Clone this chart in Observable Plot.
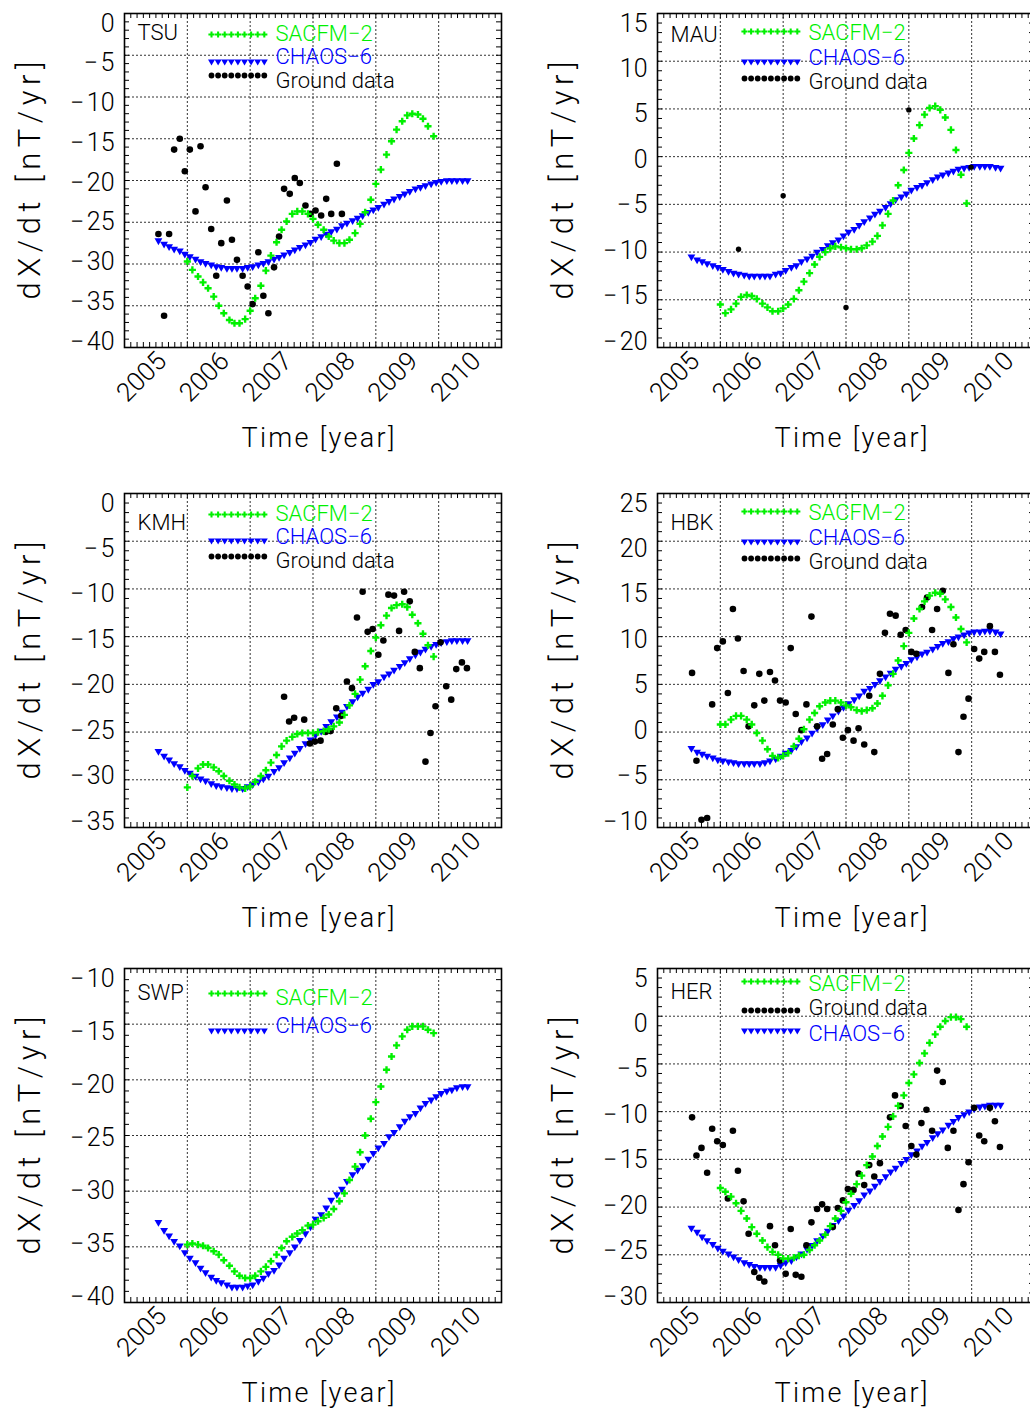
<!DOCTYPE html>
<html><head><meta charset="utf-8">
<script src="https://cdn.jsdelivr.net/npm/d3@7"></script>
<script src="https://cdn.jsdelivr.net/npm/@observablehq/plot@0.6"></script>
<style>
html,body{margin:0;padding:0;background:#fff;}
#wrap{position:relative;width:1030px;height:1412px;overflow:hidden;background:#fff;}
.panel{position:absolute;width:515px;height:457px;}
.panel svg{max-width:none !important;}
</style></head><body><div id="wrap"></div>
<script>
const FONT = "Roboto, 'DejaVu Sans', sans-serif";
const xDomain = [2004.5, 2010.5];
const xTickYears = [2005, 2006, 2007, 2008, 2009, 2010];
const xGrid = [2005.5, 2006.5, 2007.5, 2008.5, 2009.5];

// monthly epochs of the model series
const chaosMonths = [
 2005.04,2005.13,2005.21,2005.29,2005.38,2005.46,2005.54,2005.63,2005.71,2005.79,2005.88,2005.96,
 2006.04,2006.13,2006.21,2006.29,2006.38,2006.46,2006.54,2006.63,2006.71,2006.79,2006.88,2006.96,
 2007.04,2007.13,2007.21,2007.29,2007.38,2007.46,2007.54,2007.63,2007.71,2007.79,2007.88,2007.96,
 2008.04,2008.13,2008.21,2008.29,2008.38,2008.46,2008.54,2008.63,2008.71,2008.79,2008.88,2008.96,
 2009.04,2009.13,2009.21,2009.29,2009.38,2009.46,2009.54,2009.63,2009.71,2009.79,2009.88,2009.96];
const sacfmMonths = [
 2005.50,2005.58,2005.67,2005.75,2005.83,2005.92,
 2006.00,2006.08,2006.17,2006.25,2006.33,2006.42,2006.50,2006.58,2006.67,2006.75,2006.83,2006.92,
 2007.00,2007.08,2007.17,2007.25,2007.33,2007.42,2007.50,2007.58,2007.67,2007.75,2007.83,2007.92,
 2008.00,2008.08,2008.17,2008.25,2008.33,2008.42,2008.50,2008.58,2008.67,2008.75,2008.83,2008.92,
 2009.00,2009.08,2009.17,2009.25,2009.33,2009.42];

// ---- TSU ----
const chaosTSU = [-27.2,-27.6,-27.9,-28.2,-28.4,-28.8,-29.1,-29.4,-29.7,-29.9,
 -30.1,-30.3,-30.4,-30.5,-30.5,-30.5,-30.5,-30.4,-30.3,-30.1,
 -29.9,-29.7,-29.4,-29.2,-28.9,-28.6,-28.3,-28.0,-27.7,-27.4,
 -27.0,-26.7,-26.4,-26.1,-25.8,-25.4,-25.1,-24.8,-24.5,-24.2,
 -23.8,-23.5,-23.2,-22.8,-22.5,-22.2,-21.9,-21.6,-21.3,-21.0,
 -20.8,-20.6,-20.4,-20.2,-20.1,-20.0,-20.0,-20.0,-20.0,-20.0];
const sacfmTSU = [-29.7,-30.7,-31.5,-32.2,-32.9,-33.9,-35.0,-35.9,-36.7,-37.1,
 -37.1,-36.6,-35.6,-34.1,-32.6,-30.8,-29.0,-27.4,-25.9,-24.9,
 -24.0,-23.7,-23.7,-24.0,-24.6,-25.3,-25.9,-26.7,-27.2,-27.5,
 -27.5,-27.1,-26.3,-25.2,-23.8,-22.3,-20.4,-18.7,-16.9,-15.3,
 -13.9,-12.9,-12.2,-12.0,-12.1,-12.6,-13.5,-14.7];
const groundTSU = [[2005.04,-26.4],[2005.13,-36.2],[2005.21,-26.4],[2005.29,-16.3],[2005.38,-15.0],[2005.46,-18.9],
 [2005.54,-16.3],[2005.63,-23.7],[2005.71,-15.9],[2005.79,-20.8],[2005.88,-25.8],[2005.96,-31.4],
 [2006.04,-27.5],[2006.13,-22.4],[2006.21,-27.1],[2006.29,-29.5],[2006.38,-31.4],[2006.46,-32.7],
 [2006.54,-34.8],[2006.63,-28.6],[2006.71,-33.8],[2006.79,-35.9],[2006.88,-30.4],[2006.96,-26.7],
 [2007.04,-21.0],[2007.13,-21.6],[2007.21,-19.7],[2007.29,-20.3],[2007.38,-23.0],[2007.46,-24.0],
 [2007.54,-23.6],[2007.63,-24.2],[2007.71,-22.2],[2007.79,-24.0],[2007.88,-18.0],[2007.96,-24.0]];

// ---- MAU ----
const chaosMAU = [-10.5,-10.8,-11.0,-11.2,-11.4,-11.6,-11.8,-12.0,-12.2,-12.3,
 -12.4,-12.5,-12.5,-12.5,-12.5,-12.5,-12.3,-12.2,-11.9,-11.6,
 -11.4,-11.0,-10.7,-10.4,-10.0,-9.7,-9.3,-9.0,-8.7,-8.3,
 -7.9,-7.6,-7.2,-6.8,-6.4,-6.0,-5.7,-5.3,-4.9,-4.5,
 -4.2,-3.9,-3.5,-3.2,-3.0,-2.7,-2.4,-2.1,-1.9,-1.7,
 -1.5,-1.3,-1.2,-1.1,-1.0,-1.0,-1.0,-1.0,-1.1,-1.2];
const sacfmMAU = [-15.5,-16.4,-16.0,-15.4,-14.7,-14.5,-14.6,-14.9,-15.4,-15.8,
 -16.2,-16.2,-15.9,-15.5,-14.9,-14.0,-13.1,-12.2,-11.3,-10.5,
 -10.0,-9.6,-9.4,-9.5,-9.6,-9.7,-9.7,-9.6,-9.3,-8.9,
 -8.3,-7.2,-6.0,-4.6,-3.0,-1.4,0.4,1.9,3.3,4.4,
 5.1,5.3,4.9,4.1,2.8,0.7,-1.9,-4.9];
const groundMAU = [[2005.79,-9.7],[2006.50,-4.1],[2007.50,-15.8],[2008.50,4.9],[2009.49,-1.1]];

// ---- KMH ----
const chaosKMH = [-27.0,-27.5,-27.9,-28.3,-28.6,-29.0,-29.3,-29.6,-29.9,-30.1,
 -30.4,-30.6,-30.7,-30.8,-30.9,-30.9,-30.9,-30.7,-30.5,-30.2,
 -29.9,-29.6,-29.1,-28.7,-28.2,-27.7,-27.2,-26.7,-26.2,-25.8,
 -25.3,-24.9,-24.4,-23.9,-23.4,-22.9,-22.3,-21.8,-21.3,-20.9,
 -20.5,-20.0,-19.7,-19.2,-18.9,-18.5,-18.1,-17.7,-17.3,-16.9,
 -16.6,-16.3,-16.0,-15.8,-15.6,-15.5,-15.4,-15.4,-15.4,-15.4];
const sacfmKMH = [-30.8,-29.6,-28.8,-28.4,-28.4,-28.7,-29.1,-29.6,-30.1,-30.5,
 -30.8,-30.9,-30.7,-30.2,-29.6,-29.0,-28.2,-27.4,-26.5,-25.9,
 -25.5,-25.2,-25.1,-25.1,-25.1,-25.0,-24.9,-24.7,-24.4,-24.0,
 -23.2,-22.2,-21.0,-19.5,-18.1,-16.5,-15.1,-13.8,-12.8,-12.0,
 -11.7,-11.6,-11.9,-12.7,-13.6,-14.7,-15.9,-17.1];
const groundKMH = [[2007.04,-21.3],[2007.12,-23.9],[2007.20,-23.5],[2007.36,-23.7],[2007.45,-26.2],[2007.53,-26.0],
 [2007.62,-25.9],[2007.70,-25.0],[2007.78,-24.9],[2007.87,-22.5],[2007.95,-23.3],[2008.04,-19.7],
 [2008.12,-20.4],[2008.20,-13.0],[2008.29,-10.3],[2008.37,-14.5],[2008.45,-14.2],[2008.54,-16.9],
 [2008.62,-15.4],[2008.70,-10.6],[2008.79,-10.7],[2008.87,-14.4],[2008.95,-10.3],[2009.04,-11.3],
 [2009.12,-16.6],[2009.20,-18.3],[2009.29,-28.1],[2009.37,-25.1],[2009.45,-22.3],[2009.53,-15.6],
 [2009.62,-20.2],[2009.70,-21.6],[2009.78,-18.4],[2009.87,-17.7],[2009.95,-18.3]];

// ---- HBK ----
const chaosHBK = [-1.7,-2.1,-2.3,-2.5,-2.7,-2.9,-3.0,-3.1,-3.2,-3.3,
 -3.3,-3.3,-3.3,-3.3,-3.2,-3.0,-2.8,-2.5,-2.2,-1.9,
 -1.5,-1.0,-0.6,-0.1,0.4,0.8,1.3,1.7,2.2,2.6,
 3.0,3.4,3.8,4.3,4.6,5.0,5.4,5.8,6.2,6.6,
 6.9,7.2,7.6,7.9,8.2,8.4,8.7,9.0,9.3,9.5,
 9.8,10.0,10.2,10.4,10.5,10.5,10.6,10.6,10.5,10.3];
const sacfmHBK = [0.8,0.8,1.3,1.7,1.7,1.3,0.8,-0.1,-0.9,-1.8,
 -2.5,-2.7,-2.5,-2.2,-1.5,-0.7,0.3,1.3,2.0,2.7,
 3.1,3.3,3.3,3.1,2.8,2.6,2.3,2.2,2.3,2.5,
 3.0,3.8,4.9,6.1,7.5,9.0,10.4,11.9,12.9,13.7,
 14.3,14.6,14.5,13.9,13.1,12.0,10.8,9.4];
const groundHBK = [[2005.05,6.2],[2005.12,-3.0],[2005.20,-9.2],[2005.29,-9.0],[2005.37,2.9],[2005.45,8.8],
 [2005.54,9.5],[2005.62,4.1],[2005.70,12.9],[2005.78,9.8],[2005.87,6.4],[2005.95,0.6],
 [2006.04,2.8],[2006.12,6.1],[2006.20,3.3],[2006.29,6.3],[2006.37,5.4],[2006.45,3.3],
 [2006.54,3.1],[2006.62,8.8],[2006.70,1.9],[2006.79,0.2],[2006.87,2.9],[2006.95,12.1],
 [2007.04,0.6],[2007.12,-2.8],[2007.20,-2.3],[2007.29,0.8],[2007.37,2.4],[2007.45,-0.6],
 [2007.53,0.2],[2007.62,-0.9],[2007.70,0.4],[2007.79,-1.3],[2007.87,3.8],[2007.95,-2.1],
 [2008.04,6.1],[2008.12,10.4],[2008.20,12.4],[2008.29,12.2],[2008.37,10.2],[2008.45,10.7],
 [2008.54,8.4],[2008.62,8.2],[2008.71,13.1],[2008.79,14.1],[2008.87,10.7],[2008.95,12.9],
 [2009.04,14.8],[2009.13,6.2],[2009.21,9.2],[2009.29,-2.1],[2009.37,1.6],[2009.45,3.5],
 [2009.54,8.7],[2009.62,7.7],[2009.70,8.4],[2009.79,11.1],[2009.87,8.4],[2009.95,6.0]];

// ---- SWP ----
const chaosSWP = [-32.8,-33.5,-34.0,-34.5,-34.9,-35.5,-36.0,-36.4,-36.9,-37.3,
 -37.7,-38.0,-38.2,-38.4,-38.6,-38.6,-38.6,-38.5,-38.4,-38.1,
 -37.8,-37.4,-37.1,-36.6,-36.0,-35.5,-35.0,-34.4,-33.8,-33.2,
 -32.5,-32.1,-31.5,-30.8,-30.3,-29.8,-29.1,-28.5,-28.1,-27.7,
 -27.1,-26.6,-26.1,-25.7,-25.1,-24.7,-24.2,-23.7,-23.3,-23.0,
 -22.5,-22.1,-21.8,-21.5,-21.2,-21.0,-20.9,-20.7,-20.6,-20.6];
const sacfmSWP = [-34.8,-34.7,-34.8,-34.9,-35.1,-35.4,-35.7,-36.2,-36.7,-37.2,
 -37.6,-37.8,-37.8,-37.6,-37.2,-36.8,-36.3,-35.7,-35.1,-34.5,
 -34.1,-33.8,-33.5,-33.1,-33.0,-32.7,-32.4,-32.1,-31.6,-30.9,
 -30.2,-29.0,-27.8,-26.5,-25.0,-23.5,-22.0,-20.6,-19.1,-17.9,
 -16.9,-16.1,-15.5,-15.2,-15.2,-15.2,-15.5,-15.8];

// ---- HER ----
const chaosHER = [-22.2,-22.6,-23.1,-23.5,-23.9,-24.3,-24.6,-24.9,-25.2,-25.5,
 -25.8,-26.0,-26.2,-26.3,-26.3,-26.3,-26.3,-26.1,-25.8,-25.6,
 -25.2,-24.9,-24.4,-24.0,-23.5,-23.0,-22.5,-21.9,-21.4,-20.9,
 -20.3,-19.8,-19.3,-18.7,-18.3,-17.8,-17.3,-16.8,-16.3,-15.9,
 -15.4,-15.0,-14.5,-14.1,-13.6,-13.2,-12.7,-12.3,-11.9,-11.4,
 -11.0,-10.6,-10.3,-10.0,-9.7,-9.5,-9.4,-9.3,-9.3,-9.3];
const sacfmHER = [-18.0,-18.4,-18.9,-19.6,-20.4,-21.2,-22.1,-22.8,-23.5,-24.2,
 -24.7,-25.0,-25.4,-25.4,-25.3,-25.1,-25.0,-24.5,-24.0,-23.5,
 -22.9,-22.0,-21.2,-20.4,-19.5,-18.6,-17.6,-16.7,-15.6,-14.7,
 -13.6,-12.6,-11.6,-10.5,-9.4,-8.3,-7.0,-6.1,-4.9,-3.9,
 -2.8,-1.9,-1.1,-0.5,-0.1,-0.1,-0.3,-1.1];
const groundHER = [[2005.05,-10.6],[2005.12,-14.6],[2005.20,-13.8],[2005.29,-16.4],[2005.37,-11.8],[2005.45,-13.1],
 [2005.54,-13.5],[2005.62,-19.1],[2005.70,-12.0],[2005.78,-16.2],[2005.87,-19.4],[2005.95,-22.8],
 [2006.04,-26.8],[2006.12,-27.4],[2006.20,-27.8],[2006.29,-22.0],[2006.37,-24.0],[2006.45,-25.6],
 [2006.54,-27.0],[2006.62,-22.3],[2006.70,-27.1],[2006.79,-27.3],[2006.87,-24.0],[2006.95,-21.6],
 [2007.04,-20.2],[2007.12,-19.7],[2007.20,-20.2],[2007.29,-22.1],[2007.37,-20.1],[2007.45,-19.3],
 [2007.53,-18.1],[2007.62,-18.2],[2007.70,-16.5],[2007.79,-17.7],[2007.87,-15.6],[2007.95,-16.8],
 [2008.04,-15.4],[2008.20,-10.6],[2008.28,-8.3],[2008.37,-9.4],[2008.45,-11.5],[2008.54,-13.6],
 [2008.62,-14.5],[2008.70,-11.2],[2008.78,-9.8],[2008.87,-12.0],[2008.95,-5.7],[2009.04,-6.9],
 [2009.12,-13.8],[2009.21,-12.0],[2009.29,-20.3],[2009.37,-17.6],[2009.45,-15.3],[2009.54,-9.6],
 [2009.62,-12.5],[2009.70,-13.1],[2009.79,-9.6],[2009.87,-11.0],[2009.95,-13.7]];

const seriesStyle = {
  sacfm:  {label: "SACFM\u22122", color: "#00f000", symbol: "cross",    r: 3.0, rotate: 0},
  chaos:  {label: "CHAOS\u22126", color: "#0000ff", symbol: "triangle", r: 2.9, rotate: 180},
  ground: {label: "Ground data",  color: "#000000", symbol: "circle",   r: 3.3, rotate: 0}
};

// legend rows: [series, text centre offset, marker offset] from top of box (px)
const panels = [
  {name: "TSU", col: 0, row: 0, yDomain: [-40, 0], chaos: chaosTSU, sacfm: sacfmTSU, ground: groundTSU,
   nameY: 19, legend: [["sacfm", 20, 21], ["chaos", 43, 48], ["ground", 67, 62]]},
  {name: "MAU", col: 1, row: 0, yDomain: [-20, 15], chaos: chaosMAU, sacfm: sacfmMAU, ground: groundMAU,
   nameY: 21, legend: [["sacfm", 19, 18], ["chaos", 44, 48], ["ground", 68, 65]]},
  {name: "KMH", col: 0, row: 1, yDomain: [-35, 0], chaos: chaosKMH, sacfm: sacfmKMH, ground: groundKMH,
   nameY: 29, legend: [["sacfm", 20, 21], ["chaos", 43, 47], ["ground", 67, 63]]},
  {name: "HBK", col: 1, row: 1, yDomain: [-10, 25], chaos: chaosHBK, sacfm: sacfmHBK, ground: groundHBK,
   nameY: 29, legend: [["sacfm", 19, 18], ["chaos", 44, 48], ["ground", 68, 65]]},
  {name: "SWP", col: 0, row: 2, yDomain: [-40, -10], chaos: chaosSWP, sacfm: sacfmSWP, ground: null,
   nameY: 24, legend: [["sacfm", 29, 25], ["chaos", 57, 62]]},
  {name: "HER", col: 1, row: 2, yDomain: [-30, 5], chaos: chaosHER, sacfm: sacfmHER, ground: groundHER,
   nameY: 23, legend: [["sacfm", 15, 13], ["ground", 39, 42], ["chaos", 65, 62]]}
];

const colLeft = [0, 533];
const rowTop = [0, 480, 955];
const BOXW = 377, BOXH = 334, ML = 124, MT = 13, MB = 110, MR = 14;

const fmtY = d => d < 0 ? "\u2212\u200A" + Math.abs(d) : String(d);

function makePanel(p) {
  const [y0, y1] = p.yDomain;
  const [x0, x1] = xDomain;
  const px2x = px => x0 + px / BOXW * (x1 - x0);
  const py2y = py => y1 - py / BOXH * (y1 - y0);
  const minorX = d3.range(0, 61).map(i => x0 + i * 0.1);
  const minorY = d3.range(y0, y1 + 0.5, 1);
  const majorY = d3.range(y0, y1 + 0.5, 5);
  const gridY = majorY.filter(v => v > y0 && v < y1);
  const tLenY = (y1 - y0) * 5 / BOXH;
  const tLenX = (x1 - x0) * 5 / BOXW;

  const marks = [
    Plot.ruleX(xGrid, {x: d => d, stroke: "#333", strokeWidth: 1, strokeDasharray: "2,2"}),
    Plot.ruleY(gridY, {y: d => d, stroke: "#333", strokeWidth: 1, strokeDasharray: "2,2"}),
    Plot.ruleX(minorX, {x: d => d, y1: y0, y2: y0 + tLenY, stroke: "#000", strokeWidth: 1}),
    Plot.ruleX(minorX, {x: d => d, y1: y1, y2: y1 - tLenY, stroke: "#000", strokeWidth: 1}),
    Plot.ruleY(minorY, {y: d => d, x1: x0, x2: x0 + tLenX, stroke: "#000", strokeWidth: 1}),
    Plot.ruleY(minorY, {y: d => d, x1: x1, x2: x1 - tLenX, stroke: "#000", strokeWidth: 1}),
    Plot.frame({stroke: "#000", strokeWidth: 1.6})
  ];

  const cs = seriesStyle.chaos, ss = seriesStyle.sacfm, gs = seriesStyle.ground;
  marks.push(Plot.dot(p.chaos.map((v, i) => ({t: chaosMonths[i], v})),
    {x: "t", y: "v", symbol: cs.symbol, r: cs.r, fill: cs.color, rotate: cs.rotate}));
  if (p.ground) marks.push(Plot.dot(p.ground, {x: d => d[0], y: d => d[1], symbol: gs.symbol,
    r: p.name === "MAU" ? 2.7 : gs.r, fill: gs.color}));
  marks.push(Plot.dot(p.sacfm.map((v, i) => ({t: sacfmMonths[i], v})),
    {x: "t", y: "v", symbol: ss.symbol, r: ss.r, fill: ss.color}));

  // legend
  const legendPx = d3.range(9).map(i => 87 + i * 6.6);
  for (const [key, ty, my] of p.legend) {
    const s = seriesStyle[key];
    marks.push(Plot.dot(legendPx, {x: d => px2x(d), y: () => py2y(my), symbol: s.symbol,
      r: key === "ground" ? 2.9 : 2.6, fill: s.color, rotate: s.rotate}));
    marks.push(Plot.text([s.label], {text: d => d, frameAnchor: "top-left", dx: 151, dy: ty,
      textAnchor: "start", lineAnchor: "middle", fill: s.color, fontSize: 22}));
  }
  // station label
  marks.push(Plot.text([p.name], {text: d => d, frameAnchor: "top-left", dx: 13, dy: p.nameY,
    textAnchor: "start", lineAnchor: "middle", fill: "#000", fontSize: 22}));

  // y tick labels (slightly compressed toward the middle, as in the original)
  for (const v of majorY) {
    const frac = (y1 - v) / (y1 - y0);
    marks.push(Plot.text([v], {y: d => d, text: fmtY, frameAnchor: "left", dx: -10, dy: 10 - 16 * frac,
      textAnchor: "end", lineAnchor: "middle", fontSize: 25, fill: "#000"}));
  }
  marks.push(Plot.text(xTickYears, {x: d => d, text: d => String(d), frameAnchor: "bottom", dx: 12, dy: 15,
    rotate: -45, textAnchor: "end", lineAnchor: "bottom", fontSize: 26, fill: "#000"}));
  // axis titles
  marks.push(Plot.text(["Time [year]"], {text: d => d, frameAnchor: "bottom", dx: 5, dy: 91,
    textAnchor: "middle", lineAnchor: "middle", fontSize: 27, fill: "#000"}));
  marks.push(Plot.text(["dX/dt [nT/yr]"], {text: d => d, frameAnchor: "left", dx: -94, rotate: -90,
    textAnchor: "middle", lineAnchor: "middle", fontSize: 31, fill: "#000"}));

  const svg = Plot.plot({
    width: ML + BOXW + MR, height: MT + BOXH + MB,
    marginLeft: ML, marginRight: MR, marginTop: MT, marginBottom: MB,
    x: {domain: xDomain, axis: null},
    y: {domain: p.yDomain, axis: null},
    style: {fontFamily: FONT, fontWeight: 300, background: "transparent", overflow: "visible", maxWidth: "none"},
    marks
  });
  d3.select(svg).selectAll("text").each(function() {
    const t = this.textContent;
    if (t === "Time [year]") { this.setAttribute("textLength", 153); this.setAttribute("lengthAdjust", "spacing"); }
    if (t === "dX/dt [nT/yr]") { this.setAttribute("textLength", 238); this.setAttribute("lengthAdjust", "spacing"); }
  });
  const div = document.createElement("div");
  div.className = "panel";
  div.style.left = colLeft[p.col] + "px";
  div.style.top = rowTop[p.row] + "px";
  div.appendChild(svg);
  document.getElementById("wrap").appendChild(div);
}
panels.forEach(makePanel);
</script></body></html>
